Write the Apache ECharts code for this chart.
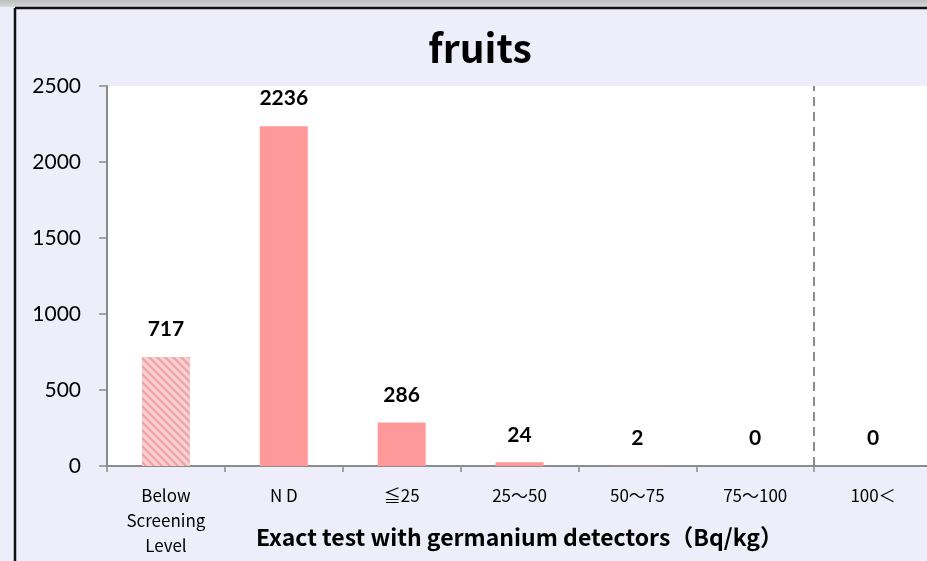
<!DOCTYPE html>
<html>
<head>
<meta charset="utf-8">
<script src="https://cdn.jsdelivr.net/npm/echarts@6/dist/echarts.min.js"></script>
<style>
  html, body { margin: 0; padding: 0; background: #EEEEFB; }
  #chart { width: 927px; height: 561px; }
</style>
</head>
<body>
<div id="chart"></div>
<script>
// Inspection results for fruits, by germanium detector reading
const categories = ['Below\nScreening\nLevel', 'N D', '≦25', '25～50', '50～75', '75～100', '100＜'];
const counts = [717, 2236, 286, 24, 2, 0, 0];
const yTicks = [0, 500, 1000, 1500, 2000, 2500];
// Boundary (in category slots) separating readings above 100 Bq/kg
const limitBoundary = 6;

// Hatched fill for the screening-level bar
function hatchPattern() {
  const c = document.createElement('canvas');
  c.width = 8; c.height = 8;
  const g = c.getContext('2d');
  g.fillStyle = '#F9CDCD';
  g.fillRect(0, 0, 8, 8);
  g.strokeStyle = '#EBA3A6';
  g.lineWidth = 2;
  g.beginPath();
  g.moveTo(-2, -2); g.lineTo(10, 10);
  g.moveTo(-6, 2); g.lineTo(2, 10);
  g.moveTo(2, -6); g.lineTo(10, 2);
  g.stroke();
  return { image: c, repeat: 'repeat' };
}

const chart = echarts.init(document.getElementById('chart'), null, { renderer: 'canvas' });

const barData = counts.map((v, i) => ({
  value: v,
  itemStyle: i === 0 ? { color: hatchPattern() } : { color: '#FF9999' }
}));

chart.setOption({
  backgroundColor: '#EEEEFB',
  animation: false,
  graphic: [
    { type: 'rect', shape: { x: 0, y: 0, width: 927, height: 7 },
      style: { fill: new echarts.graphic.LinearGradient(0, 0, 0, 1, [
        { offset: 0, color: '#BDBDBD' }, { offset: 1, color: '#D8D8DE' }]) }, z: -1 },
    { type: 'line', shape: { x1: 15, y1: 8, x2: 927, y2: 8 },
      style: { stroke: '#111', lineWidth: 2.5 } },
    { type: 'line', shape: { x1: 15, y1: 8, x2: 15, y2: 561 },
      style: { stroke: '#111', lineWidth: 2.5 } }
  ],
  title: {
    text: 'fruits',
    left: 475, top: 24, textAlign: 'center',
    textStyle: { fontFamily: 'Noto Sans CJK JP', fontWeight: 'bold', fontSize: 39, color: '#000' }
  },
  grid: {
    left: 107, top: 86, width: 825, height: 380,
    outerBoundsMode: 'none',
    show: true, backgroundColor: '#FFFFFF', borderWidth: 0
  },
  xAxis: [{
    type: 'category',
    data: categories,
    boundaryGap: true,
    axisLine: { show: true, lineStyle: { color: '#8C8C8C', width: 2 } },
    axisTick: { show: true, length: 6, alignWithLabel: false, lineStyle: { color: '#8C8C8C', width: 1.5 } },
    axisLabel: {
      interval: 0, margin: 17, lineHeight: 25,
      fontFamily: 'Noto Sans CJK JP', fontSize: 17, color: '#000'
    },
    splitLine: { show: false },
    name: 'Exact test with germanium detectors（Bq/kg）',
    nameLocation: 'middle',
    nameGap: 60,
    nameMoveOverlap: false,
    nameTextStyle: { fontFamily: 'Noto Sans CJK JP', fontWeight: 'bold', fontSize: 23, color: '#000' }
  }, {
    // helper scale in slot units, used only to place the limit line
    type: 'value',
    min: 0, max: categories.length,
    show: false
  }],
  yAxis: {
    type: 'value',
    min: yTicks[0], max: yTicks[yTicks.length - 1], interval: 500,
    axisLine: { show: true, lineStyle: { color: '#8C8C8C', width: 2 } },
    axisTick: { show: true, length: 8, lineStyle: { color: '#8C8C8C', width: 1.5 } },
    axisLabel: { margin: 26, fontFamily: 'Lato', fontSize: 21, color: '#000',
      formatter: function (v) { return String(v); } },
    splitLine: { show: false }
  },
  series: [{
    type: 'bar',
    data: barData,
    barWidth: 48,
    label: {
      show: true, position: 'top', distance: 17,
      fontFamily: 'Lato', fontWeight: 'bold', fontSize: 21, color: '#000'
    }
  }, {
    type: 'line',
    xAxisIndex: 1,
    data: [],
    silent: true,
    markLine: {
      symbol: ['none', 'none'],
      label: { show: false },
      lineStyle: { color: '#8C8C8C', width: 2, type: [9, 6] },
      data: [{ xAxis: limitBoundary }]
    }
  }]
});
</script>
</body>
</html>
